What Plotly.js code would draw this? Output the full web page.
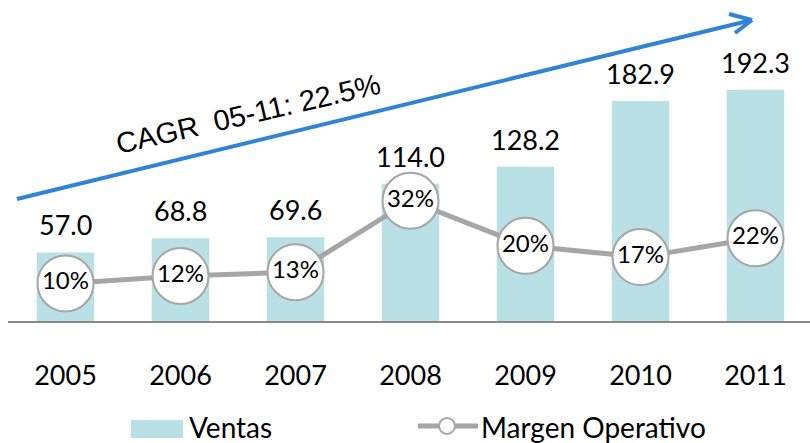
<!DOCTYPE html>
<html>
<head>
<meta charset="utf-8">
<script src="https://cdn.plot.ly/plotly-3.0.1.min.js"></script>
<style>html,body{margin:0;padding:0;background:#fff;}#chart{width:810px;height:443px;}</style>
</head>
<body>
<div id="chart"></div>
<script>
var years = ['2005', '2006', '2007', '2008', '2009', '2010', '2011'];
var ventas = [57.0, 68.8, 69.6, 114.0, 128.2, 182.9, 192.3];
var margen = [10, 12, 13, 32, 20, 17, 22];
var cagrLabel = 'CAGR  05-11: 22.5%';

var NUMFONT = 'Lato, "Open Sans", sans-serif';
var barColor = '#b9e0e4';
var lineColor = '#a6a6a6';
var arrowColor = '#3083d5';

var traces = [
  {
    type: 'bar', name: 'Ventas', x: years, y: ventas,
    marker: {color: barColor}, width: 0.5, showlegend: false,
    hoverinfo: 'skip'
  },
  {
    type: 'scatter', mode: 'lines+markers+text', name: 'Margen Operativo',
    x: years, y: margen, yaxis: 'y2',
    text: margen.map(function (v) { return v + '%'; }),
    textposition: 'middle center',
    textfont: {family: NUMFONT, size: 24, color: '#000'},
    line: {color: lineColor, width: 5},
    marker: {size: 56, color: '#fff', line: {color: lineColor, width: 2}},
    showlegend: false, hoverinfo: 'skip', cliponaxis: false
  }
];

var annotations = ventas.map(function (v, i) {
  return {
    x: i, y: v, xref: 'x', yref: 'y', text: v.toFixed(1),
    showarrow: false, xanchor: 'center', yanchor: 'bottom', yshift: 9,
    font: {family: NUMFONT, size: 27, color: '#000'}
  };
});

annotations.push({
  xref: 'paper', yref: 'paper', x: 0.299, y: 0.645, text: cagrLabel,
  showarrow: false, textangle: -13, xanchor: 'center', yanchor: 'middle',
  font: {family: '"Liberation Sans", Arial, sans-serif', size: 29, color: '#000'}
});

// legend texts
annotations.push({
  xref: 'paper', yref: 'paper', x: 0.2244, y: -0.3855, text: 'Ventas',
  showarrow: false, xanchor: 'left', yanchor: 'bottom', borderpad: 0,
  font: {family: NUMFONT, size: 28, color: '#000'}
});
annotations.push({
  xref: 'paper', yref: 'paper', x: 0.5885, y: -0.3855, text: 'Margen Operativo',
  showarrow: false, xanchor: 'left', yanchor: 'bottom', borderpad: 0,
  font: {family: NUMFONT, size: 28, color: '#000'}
});

var shapes = [
  // CAGR arrow shaft and head
  {type: 'line', xref: 'paper', yref: 'paper', x0: 0.0112, y0: 0.380, x1: 0.9277, y1: 0.9377,
   line: {color: arrowColor, width: 4}},
  {type: 'line', xref: 'paper', yref: 'paper', x0: 0.9277, y0: 0.9377, x1: 0.8990, y1: 0.9564,
   line: {color: arrowColor, width: 4}},
  {type: 'line', xref: 'paper', yref: 'paper', x0: 0.9277, y0: 0.9377, x1: 0.9065, y1: 0.8972,
   line: {color: arrowColor, width: 4}},
  // legend: Ventas swatch
  {type: 'rect', xref: 'paper', yref: 'paper', x0: 0.1534, x1: 0.2182, y0: -0.3645, y1: -0.3084,
   fillcolor: barColor, line: {width: 0}},
  // legend: Margen line + circle
  {type: 'line', xref: 'paper', yref: 'paper', x0: 0.511, x1: 0.586, y0: -0.327, y1: -0.327,
   line: {color: lineColor, width: 5}},
  {type: 'circle', xref: 'paper', yref: 'paper', xsizemode: 'pixel', ysizemode: 'pixel',
   xanchor: 0.5474, yanchor: -0.327, x0: -8, x1: 8, y0: -8, y1: 8,
   fillcolor: '#fff', line: {color: lineColor, width: 2}}
];

var layout = {
  width: 810, height: 443,
  margin: {l: 8, r: 0, t: 0, b: 122, pad: 0},
  paper_bgcolor: '#fff', plot_bgcolor: '#fff',
  showlegend: false,
  bargap: 0.5,
  xaxis: {
    type: 'category', range: [-0.5, 6.474], showgrid: false, zeroline: false,
    showline: true, linecolor: '#898989', linewidth: 2,
    ticks: 'outside', ticklen: 30, tickcolor: 'rgba(0,0,0,0)',
    tickfont: {family: NUMFONT, size: 27, color: '#000'}, fixedrange: true
  },
  yaxis: {range: [0, 266.8], showticklabels: false, ticks: '', showline: false,
          showgrid: false, zeroline: false, fixedrange: true},
  yaxis2: {range: [0, 85.4], overlaying: 'y', side: 'right', showticklabels: false, ticks: '',
           showline: false, showgrid: false, zeroline: false, fixedrange: true},
  annotations: annotations,
  shapes: shapes
};

Plotly.newPlot('chart', traces, layout, {staticPlot: true, displayModeBar: false});
</script>
</body>
</html>
